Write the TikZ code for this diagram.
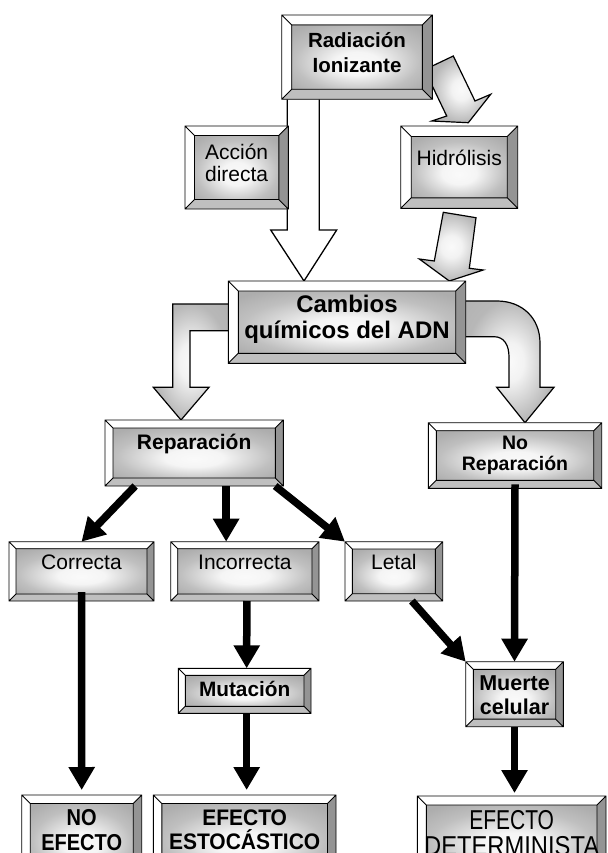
\documentclass[tikz,border=0pt]{standalone}
\usepackage{fontspec}
\setmainfont{Liberation Sans}
\usetikzlibrary{arrows.meta,calc}
\pgfdeclarelayer{bg}
\pgfsetlayers{bg,main}
\pgfdeclareradialshading{bevelface}{\pgfpoint{0bp}{-6bp}}{color(0bp)=(black!2); color(9bp)=(black!4); color(24bp)=(black!25); color(33bp)=(black!32); color(50bp)=(black!32)}
\pgfdeclareradialshading{arrowface}{\pgfpoint{0bp}{0bp}}{color(0bp)=(black!2); color(8bp)=(black!5); color(25bp)=(black!28); color(50bp)=(black!33)}

\newcommand{\bevelbox}[8]{%
  \pgfmathsetmacro\bvxa{#2+#6}%
  \pgfmathsetmacro\bvya{#3+#6}%
  \pgfmathsetmacro\bvxb{#4-#6}%
  \pgfmathsetmacro\bvyb{#5-#6}%
  \pgfmathsetmacro\bvcx{(#2+#4)/2}%
  \pgfmathsetmacro\bvcy{(#3+#5)/2}%
  \pgfmathsetmacro\bvw{#4-#2}%
  \pgfmathsetmacro\bvh{#5-#3}%
  \fill[white] (#2,#3) -- (#4,#3) -- (\bvxb,\bvya) -- (\bvxa,\bvya) -- cycle;
  \fill[white] (#2,#3) -- (\bvxa,\bvya) -- (\bvxa,\bvyb) -- (#2,#5) -- cycle;
  \fill[bevelright] (#4,#3) -- (#4,#5) -- (\bvxb,\bvyb) -- (\bvxb,\bvya) -- cycle;
  \fill[bevelbottom] (#2,#5) -- (#4,#5) -- (\bvxb,\bvyb) -- (\bvxa,\bvyb) -- cycle;
  \shade[shading=bevelface] (\bvxa,\bvya) rectangle (\bvxb,\bvyb);
  \draw[boxline] (#2,#3) rectangle (#4,#5) (\bvxa,\bvya) rectangle (\bvxb,\bvyb)
     (#2,#3) -- (\bvxa,\bvya) (#4,#3) -- (\bvxb,\bvya) (#2,#5) -- (\bvxa,\bvyb) (#4,#5) -- (\bvxb,\bvyb);
  \node[inner sep=0pt, outer sep=0pt, minimum width=\bvw pt, minimum height=\bvh pt] (#1) at (\bvcx,\bvcy) {};
  \node[boxtext, #7] at (\bvcx,\bvcy) {#8};
}

\begin{document}
\begin{tikzpicture}[x=1pt,y=-1pt,
  bevelright/.style={fill=black!42},
  bevelbottom/.style={fill=black!25},
  boxline/.style={draw=black, line width=0.9pt},
  boxtext/.style={align=center, inner sep=0pt},
  reg/.style={font=\fontsize{21pt}{22pt}\selectfont},
  grayarrow/.style={shading=arrowface, draw=black, line width=1.2pt, line join=miter},
  hollowarrow/.style={fill=white, draw=black, line width=1.3pt, line join=miter},
  blackarrow/.style={draw=black, line width=7.5pt, -{Triangle[length=23pt,width=25pt]}}
]
\useasboundingbox (0,0) rectangle (607,853);

% boxes
\bevelbox{rad}{281.7}{15}{432.3}{99.3}{10}{font=\fontsize{20.5pt}{25pt}\selectfont\bfseries, yshift=4.5pt}{Radiación\\Ionizante}
\bevelbox{acc}{185}{126}{288.3}{209}{9.5}{reg, yshift=5pt}{Acción\\directa}
\bevelbox{hid}{400.7}{126}{517.7}{208.3}{10.5}{reg, yshift=9pt}{Hidrólisis}
\bevelbox{cam}{228.3}{281}{465.7}{363.3}{10}{font=\fontsize{24pt}{26pt}\selectfont\bfseries, yshift=2.5pt}{Cambios\\químicos del ADN}
\bevelbox{rep}{105}{420}{283.3}{486}{8}{font=\fontsize{21pt}{22pt}\selectfont\bfseries, yshift=9.5pt}{Reparación}
\bevelbox{norep}{428.3}{422.7}{601.7}{488.3}{8}{font=\fontsize{19.5pt}{21pt}\selectfont\bfseries}{No\\Reparación}
\bevelbox{cor}{9}{541.7}{154}{601}{7}{reg, yshift=9pt}{Correcta}
\bevelbox{inc}{170.7}{541.7}{319}{601}{7}{reg, yshift=9pt}{Incorrecta}
\bevelbox{let}{345}{541.7}{442.7}{601}{7.3}{reg, yshift=9pt}{Letal}
\bevelbox{mut}{178.3}{668.3}{311}{713.3}{7}{font=\fontsize{20.8pt}{22pt}\selectfont\bfseries, yshift=1.5pt}{Mutación}
\bevelbox{mue}{465.7}{661.7}{563.3}{726.7}{7.6}{font=\fontsize{21.5pt}{24pt}\selectfont\bfseries, yshift=-1pt}{Muerte\\celular}
\bevelbox{noef}{21.7}{795}{141.7}{880}{8.5}{font=\fontsize{20pt}{24.3pt}\selectfont\bfseries, yshift=7.5pt}{\scalebox{1}[1.15]{NO}\\\scalebox{1}[1.15]{EFECTO}}
\bevelbox{est}{153.3}{795}{336}{880}{8.5}{font=\fontsize{21pt}{24.3pt}\selectfont\bfseries, yshift=7.5pt}{\scalebox{1}[1.07]{EFECTO}\\\scalebox{1}[1.07]{ESTOCÁSTICO}}
\bevelbox{det}{417.3}{796}{606}{880}{9}{font=\fontsize{21pt}{26pt}\selectfont, yshift=5pt}{\scalebox{1}[1.3]{EFECTO}\\\scalebox{1.13}[1.3]{DETERMINISTA}}

% block arrows (behind the boxes)
\begin{pgfonlayer}{bg}
\draw[hollowarrow] (287.3,0 |- rad.south) -- (287.3,230) -- (270.7,230) -- (304,0 |- cam.north) -- (336.7,230) -- (319.3,230) -- (319.3,0 |- rad.south);
\shadedraw[grayarrow] (rad.east |- 0,66) -- (453.3,56) -- (475,101) -- (490.7,94.3) -- (468.3,122.7) -- (431.7,121) -- (446.7,116) -- (rad.east |- 0,86);
\shadedraw[grayarrow] (443.3,212.3) -- (476,217.7) -- (469.3,268.3) -- (483.3,270) -- (449.3,0 |- cam.north) -- (419.3,259) -- (434.3,261) -- cycle;
\shadedraw[grayarrow] (cam.west |- 0,304) -- (172.7,304) -- (172.7,387.3) -- (153.3,387.3) -- (181,0 |- rep.north) -- (209,387.3) -- (190,387.3) -- (190,330.7) -- (cam.west |- 0,330.7);
\shadedraw[grayarrow] (cam.east |- 0,301) -- (497,301) .. controls (522,301) and (540,318) .. (540,343) -- (540,387.3) -- (554,387.3) -- (525,0 |- norep.north) -- (496.7,387.3) -- (509,387.3) -- (509,357) .. controls (509,345) and (504,336.7) .. (494,336.7) -- (cam.east |- 0,336.7);
\end{pgfonlayer}

% black arrows
\draw[blackarrow] ([xshift=-59pt]rep.south) -- (cor.north);
\draw[blackarrow] ([xshift=32pt]rep.south) -- ([xshift=32pt]rep.south |- inc.north);
\draw[blackarrow] ([xshift=81pt]rep.south) -- (let.north west);
\draw[blackarrow, shorten >=5pt] ([yshift=9pt]cor.south) -- (noef.north);
\draw[blackarrow] ([xshift=2pt]inc.south) -- ([xshift=2pt]mut.north);
\draw[blackarrow, shorten >=5pt] ([xshift=2pt]mut.south) -- ([xshift=2pt]est.north);
\draw[blackarrow] ([xshift=18pt]let.south) -- (mue.north west);
\draw[blackarrow] ([yshift=4pt]norep.south) -- (mue.north);
\draw[blackarrow, shorten >=3pt] (mue.south) -- (mue.south |- det.north);
\end{tikzpicture}
\end{document}
